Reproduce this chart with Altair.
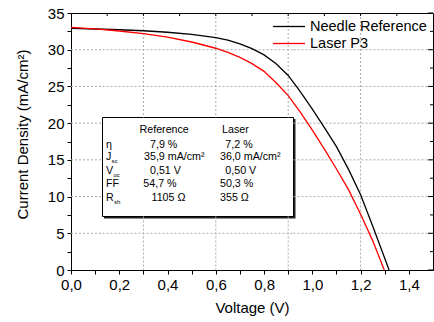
import altair as alt
import pandas as pd

# ---------------- data ----------------
series = ["Needle Reference", "Laser P3"]
colors = ["#000000", "#ff0000"]

v_ref = [0.00, 0.10, 0.20, 0.30, 0.40, 0.50, 0.60, 0.65, 0.70, 0.75, 0.80, 0.85,
         0.90, 0.95, 1.00, 1.05, 1.10, 1.15, 1.20, 1.25, 1.30, 1.318]
j_ref = [32.90, 32.82, 32.72, 32.58, 32.38, 32.10, 31.65, 31.30, 30.80, 30.15, 29.30, 28.10,
         26.50, 24.30, 21.90, 19.40, 16.80, 13.70, 10.25, 6.00, 1.60, 0.00]

v_las = [0.00, 0.10, 0.20, 0.30, 0.40, 0.50, 0.60, 0.65, 0.70, 0.75, 0.80, 0.85,
         0.90, 0.95, 1.00, 1.05, 1.10, 1.15, 1.20, 1.25, 1.298]
j_las = [33.05, 32.85, 32.55, 32.20, 31.70, 31.05, 30.20, 29.65, 28.95, 28.10, 27.05, 25.50,
         23.75, 21.50, 19.05, 16.45, 13.75, 10.95, 7.60, 4.00, 0.00]

x_major = [0.0, 0.2, 0.4, 0.6, 0.8, 1.0, 1.2, 1.4]
x_minor = [0.1, 0.3, 0.5, 0.7, 0.9, 1.1, 1.3]
x_grid = [0.3, 0.6, 0.9, 1.2]
x_top = [0.15, 0.3, 0.45, 0.6, 0.75, 0.9, 1.05, 1.2, 1.35]
y_major = [0, 5, 10, 15, 20, 25, 30, 35]
y_minor = [2.5, 7.5, 12.5, 17.5, 22.5, 27.5, 32.5]
y_grid = [5, 10, 15, 20, 25, 30]

table_header = ["Reference", "Laser"]
row_labels = ["η", "J", "V", "FF", "R"]
row_subs = ["", "sc", "oc", "", "sh"]
ref_vals = ["7,9 %", "35,9 mA/cm²", "0,51 V", "54,7 %", "1105 Ω"]
las_vals = ["7,2 %", "36,0 mA/cm²", "0,50 V", "50,3 %", "355 Ω"]

# ---------------- layout (pixels) ----------------
W, H = 362, 257
OX, OY = 71, 13
XMAX, YMAX = 1.5, 35
FONT = "Liberation Sans"
GRID_COLOR = "#aaaaaa"

BX0, BX1 = 102 - OX + 0.5, 293 - OX + 0.5
BY0, BY1 = 117 - OY + 0.5, 216 - OY + 0.5

row_y = [145, 157, 170.5, 184, 197.5]
label_x = 106
sub_dx = [0, 5.5, 7.5, 0, 8]
ref_x = [150, 144, 150, 143.3, 151.5]
las_x = [225.3, 220, 225.3, 220, 220]
header_x = [139.5, 222]
header_y = 129.5

texts, pxs, pys = [], [], []
for t, x in zip(table_header, header_x):
    texts.append(t); pxs.append(x - OX); pys.append(header_y - OY)
for i in range(len(row_labels)):
    texts += [row_labels[i], ref_vals[i], las_vals[i]]
    pxs += [label_x - OX, ref_x[i] - OX, las_x[i] - OX]
    pys += [row_y[i] - OY] * 3
tab = pd.DataFrame({"text": texts, "px": pxs, "py": pys})

sub_t, sub_x, sub_y = [], [], []
for i, s in enumerate(row_subs):
    if s:
        sub_t.append(s); sub_x.append(label_x + sub_dx[i] - OX); sub_y.append(row_y[i] + 4 - OY)
subs = pd.DataFrame({"text": sub_t, "px": sub_x, "py": sub_y})

leg = pd.DataFrame({"series": series, "row": list(range(len(series)))})

df = pd.DataFrame({
    "V": v_ref + v_las,
    "J": j_ref + j_las,
    "series": [series[0]] * len(v_ref) + [series[1]] * len(v_las),
})

xs = alt.Scale(domain=[0, XMAX], nice=False, zero=False)
ys = alt.Scale(domain=[0, YMAX], nice=False, zero=False)
cs = alt.Scale(domain=series, range=colors)

px2v = f"datum.px / {W} * {XMAX}"
py2j = f"({H} - datum.py) / {H} * {YMAX}"

x_ticks = sorted(x_major + x_minor)
y_ticks = sorted(y_major + y_minor)

gx = pd.DataFrame({"g": x_grid})
gy = pd.DataFrame({"g": y_grid})
rule_style = dict(color=GRID_COLOR, strokeDash=[2, 2], strokeWidth=1)

vg_top = alt.Chart(gx).mark_rule(**rule_style).encode(
    x=alt.X("g:Q", scale=xs, axis=None), y=alt.value(0), y2=alt.value(BY0))
vg_bot = alt.Chart(gx).mark_rule(**rule_style).encode(
    x=alt.X("g:Q", scale=xs, axis=None), y=alt.value(BY1), y2=alt.value(H))
vg_mid = alt.Chart(gx).transform_filter(
    f"datum.g / {XMAX} * {W} > {BX1 + 1} || datum.g / {XMAX} * {W} < {BX0 - 1}"
).mark_rule(**rule_style).encode(
    x=alt.X("g:Q", scale=xs, axis=None), y=alt.value(BY0), y2=alt.value(BY1))

hg_left = alt.Chart(gy).mark_rule(**rule_style).encode(
    y=alt.Y("g:Q", scale=ys, axis=None), x=alt.value(0), x2=alt.value(BX0))
hg_right = alt.Chart(gy).mark_rule(**rule_style).encode(
    y=alt.Y("g:Q", scale=ys, axis=None), x=alt.value(BX1), x2=alt.value(W))
hg_mid = alt.Chart(gy).transform_filter(
    f"{H} - datum.g / {YMAX} * {H} < {BY0 - 1} || {H} - datum.g / {YMAX} * {H} > {BY1 + 1}"
).mark_rule(**rule_style).encode(
    y=alt.Y("g:Q", scale=ys, axis=None), x=alt.value(BX0), x2=alt.value(BX1))

# inward ticks on the top and right frame
top_ticks = alt.Chart(pd.DataFrame({"t": x_top})).mark_rule(color="black", strokeWidth=1).encode(
    x=alt.X("t:Q", scale=xs, axis=None), y=alt.value(0), y2=alt.value(3))
right_major = alt.Chart(pd.DataFrame({"t": y_major})).mark_rule(color="black", strokeWidth=1).encode(
    y=alt.Y("t:Q", scale=ys, axis=None), x=alt.value(W - 5), x2=alt.value(W))
right_minor = alt.Chart(pd.DataFrame({"t": y_minor})).mark_rule(color="black", strokeWidth=1).encode(
    y=alt.Y("t:Q", scale=ys, axis=None), x=alt.value(W - 3), x2=alt.value(W))

curves = alt.Chart(df).mark_line(strokeWidth=1.3).encode(
    x=alt.X("V:Q", scale=xs, axis=alt.Axis(
        orient="bottom", values=x_ticks, tickSize=4, labelPadding=3,
        labelExpr="round(datum.value * 10) % 2 == 0 ? replace(format(datum.value, '.1f'), '.', ',') : ''",
        labelFlush=False, labelOverlap=False,
        title="Voltage (V)", titleY=37, titleBaseline="middle", grid=False)),
    y=alt.Y("J:Q", scale=ys, axis=alt.Axis(
        orient="left", values=y_ticks, tickSize=4, labelPadding=3,
        labelExpr="datum.value % 5 == 0 ? format(datum.value, 'd') : ''",
        labelFlush=False, labelOverlap=False,
        title="Current Density (mA/cm²)", titleX=-49, titleY=121,
        titleAlign="center", titleBaseline="middle", titleAngle=270, grid=False)),
    color=alt.Color("series:N", scale=cs, legend=None),
)

one = pd.DataFrame({"k": [0]})
shadow = alt.Chart(one).mark_rect(fill="#222222").encode(
    x=alt.value(BX0 + 1.5), x2=alt.value(BX1 + 2),
    y=alt.value(BY0 + 1.5), y2=alt.value(BY1 + 2),
)
box = alt.Chart(one).mark_rect(fill="white", stroke="black", strokeWidth=1).encode(
    x=alt.value(BX0), x2=alt.value(BX1),
    y=alt.value(BY0), y2=alt.value(BY1),
)

table_text = alt.Chart(tab).transform_calculate(
    ax=px2v, ay=py2j
).mark_text(
    align="left", baseline="middle", font=FONT, fontSize=10.7, color="black"
).encode(
    x=alt.X("ax:Q", scale=xs, axis=None),
    y=alt.Y("ay:Q", scale=ys, axis=None),
    text="text:N",
)
sub_text = alt.Chart(subs).transform_calculate(
    ax=px2v, ay=py2j
).mark_text(
    align="left", baseline="middle", font=FONT, fontSize=6, color="black"
).encode(
    x=alt.X("ax:Q", scale=xs, axis=None),
    y=alt.Y("ay:Q", scale=ys, axis=None),
    text="text:N",
)

leg_lines = alt.Chart(leg).transform_calculate(
    py="13.5 + datum.row * 17"
).transform_calculate(
    ay=py2j
).mark_rule(strokeWidth=1.3).encode(
    x=alt.value(273 - OX), x2=alt.value(305 - OX),
    y=alt.Y("ay:Q", scale=ys, axis=None),
    color=alt.Color("series:N", scale=cs, legend=None),
)
leg_text = alt.Chart(leg).transform_calculate(
    py="13.5 + datum.row * 17"
).transform_calculate(
    ay=py2j
).mark_text(align="left", baseline="middle", font=FONT, fontSize=14.5, color="black").encode(
    x=alt.value(310 - OX),
    y=alt.Y("ay:Q", scale=ys, axis=None),
    text="series:N",
)

chart = alt.layer(
    shadow, box,
    vg_top, vg_bot, vg_mid, hg_left, hg_right, hg_mid,
    top_ticks, right_major, right_minor,
    table_text, sub_text, curves, leg_lines, leg_text,
).resolve_axis(
    x="independent", y="independent"
).properties(
    width=W, height=H,
    padding={"left": OX, "top": OY, "right": 434 - OX - W, "bottom": 322 - OY - H},
    autosize=alt.AutoSizeParams(type="none"),
    background="white",
).configure_view(
    stroke="black", strokeWidth=1
).configure_axis(
    labelFont=FONT, titleFont=FONT, labelFontSize=15, titleFontSize=15,
    labelColor="black", titleColor="black", tickColor="black", domainColor="black",
    titleFontWeight="normal", domainWidth=1, tickWidth=1,
)

chart.save("out.html", embed_options={"renderer": "svg", "actions": False})
